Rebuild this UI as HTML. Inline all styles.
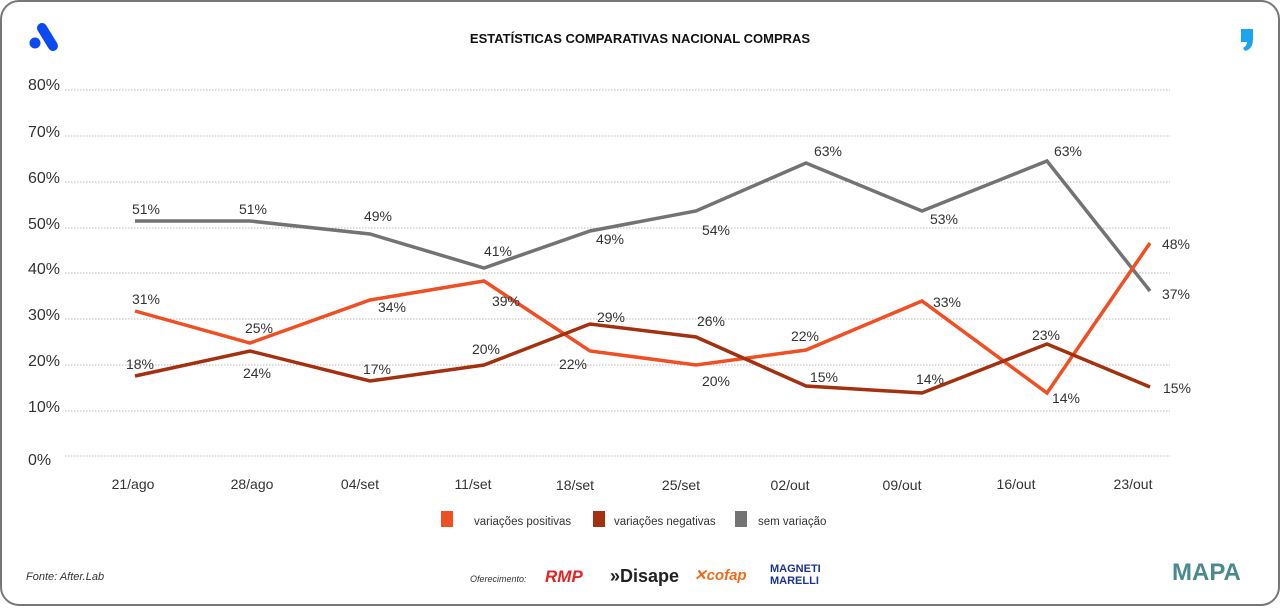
<!DOCTYPE html>
<html><head><meta charset="utf-8"><style>
body{margin:0;background:#fff;}
.f{font-family:"Liberation Sans",sans-serif;}
</style></head><body>
<svg width="1280" height="606" xmlns="http://www.w3.org/2000/svg" class="f" font-family="Liberation Sans, sans-serif">
<rect x="1" y="1" width="1278" height="604" rx="18" fill="#fff" stroke="#777" stroke-width="2"/>
<g fill="#0a4af0"><line x1="42" y1="28" x2="53" y2="46" stroke="#0a4af0" stroke-width="10" stroke-linecap="round"/><circle cx="35" cy="43" r="5.5"/></g>
<path d="M1241 29h12v10q0 10-8 12l-2-3q4-2 4-6h-6z" fill="#19a5f0"/>
<text x="640" y="43" text-anchor="middle" font-size="13" font-weight="bold" fill="#111">ESTATÍSTICAS COMPARATIVAS NACIONAL COMPRAS</text>
<g stroke="#bbb" stroke-dasharray="1.5 1.5" stroke-width="1">
<line x1="65" y1="90" x2="1170" y2="90"/><line x1="65" y1="136" x2="1170" y2="136"/><line x1="65" y1="182" x2="1170" y2="182"/><line x1="65" y1="228" x2="1170" y2="228"/><line x1="65" y1="273" x2="1170" y2="273"/><line x1="65" y1="319" x2="1170" y2="319"/><line x1="65" y1="365" x2="1170" y2="365"/><line x1="65" y1="411" x2="1170" y2="411"/><line x1="65" y1="456" x2="1170" y2="456"/>
</g>
<g font-size="16" fill="#333">
<text x="28" y="90">80%</text><text x="28" y="137">70%</text><text x="28" y="183">60%</text><text x="28" y="229">50%</text><text x="28" y="274">40%</text><text x="28" y="320">30%</text><text x="28" y="366">20%</text><text x="28" y="412">10%</text><text x="28" y="465">0%</text>
</g>
<g font-size="14" fill="#333" text-anchor="middle">
<text x="133" y="489">21/ago</text><text x="252" y="489">28/ago</text><text x="360" y="489">04/set</text><text x="473" y="489">11/set</text><text x="575" y="490">18/set</text><text x="681" y="490">25/set</text><text x="790" y="490">02/out</text><text x="902" y="490">09/out</text><text x="1016" y="489">16/out</text><text x="1133" y="489">23/out</text>
</g>
<polyline fill="none" stroke="#737373" stroke-width="3.5" points="135,221 250,221 370,234 484,268 590,231 696,211 806,163 922,211 1047,161 1150,291"/>
<polyline fill="none" stroke="#f04f23" stroke-width="3.5" points="135,311 250,343 370,300 484,281 590,351 696,365 806,350 922,301 1047,393 1150,243"/>
<polyline fill="none" stroke="#a3300f" stroke-width="3.5" points="135,376 250,351 370,381 484,365 590,324 696,337 806,386 922,393 1047,344 1150,387"/>
<g font-size="14" fill="#333" text-anchor="middle">
<text x="146" y="214">51%</text><text x="253" y="214">51%</text><text x="378" y="221">49%</text><text x="498" y="256">41%</text><text x="610" y="244">49%</text><text x="716" y="235">54%</text><text x="828" y="156">63%</text><text x="944" y="224">53%</text><text x="1068" y="156">63%</text><text x="1176" y="299">37%</text>
<text x="146" y="304">31%</text><text x="259" y="333">25%</text><text x="392" y="312">34%</text><text x="506" y="306">39%</text><text x="573" y="369">22%</text><text x="716" y="386">20%</text><text x="805" y="341">22%</text><text x="947" y="307">33%</text><text x="1066" y="403">14%</text><text x="1176" y="249">48%</text>
<text x="140" y="369">18%</text><text x="257" y="378">24%</text><text x="377" y="374">17%</text><text x="486" y="354">20%</text><text x="611" y="322">29%</text><text x="711" y="326">26%</text><text x="824" y="382">15%</text><text x="930" y="384">14%</text><text x="1046" y="340">23%</text><text x="1177" y="393">15%</text>
</g>
<g font-size="11.5" fill="#333">
<rect x="441" y="511" width="12" height="16" fill="#f04f23"/><text x="474" y="525">variações positivas</text>
<rect x="593" y="511" width="12" height="16" fill="#a3300f"/><text x="614" y="525">variações negativas</text>
<rect x="735" y="511" width="12" height="16" fill="#737373"/><text x="758" y="525">sem variação</text>
</g>
<text x="26" y="580" font-size="11" font-style="italic" fill="#333">Fonte: After.Lab</text>
<text x="470" y="582" font-size="9" font-style="italic" fill="#333">Oferecimento:</text>
<text x="545" y="582" font-size="17" font-weight="bold" font-style="italic" fill="#e32424">RMP</text>
<text x="610" y="582" font-size="18" font-weight="bold" fill="#222">»Disape</text>
<text x="694" y="580" font-size="15" font-weight="bold" font-style="italic" fill="#f06a1a">✕cofap</text>
<text x="770" y="572" font-size="11" font-weight="bold" fill="#1a3590">MAGNETI</text>
<text x="770" y="584" font-size="11" font-weight="bold" fill="#1a3590">MARELLI</text>
<text x="1172" y="580" font-size="24" font-weight="bold" fill="#4a8a8a">MAPA</text>
</svg>
</body></html>
